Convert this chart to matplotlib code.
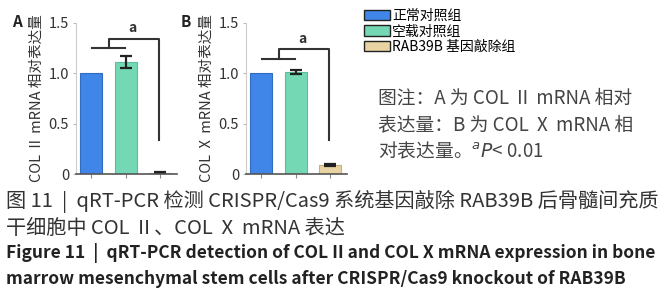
import numpy as np
import matplotlib
matplotlib.use("Agg")
import matplotlib.pyplot as plt
from matplotlib.patches import Patch

plt.rcParams['font.family'] = ['Noto Sans CJK SC', 'DejaVu Sans']

# data
groups = ["正常对照组", "空载对照组", "RAB39B 基因敲除组"]
colors = ["#3f86e8", "#74d8b4", "#e8d3a2"]
col2_vals = [1.0, 1.11, 0.01]
col2_err = [0.0, 0.06, 0.005]
col10_vals = [1.0, 1.01, 0.09]
col10_err = [0.0, 0.02, 0.01]
yticks = [0, 0.5, 1.0, 1.5]
ytick_labels = ["0", "0.5", "1.0", "1.5"]

W, H = 672, 300
fig = plt.figure(figsize=(W / 100, H / 100), dpi=100)


def px_axes(x0, y0, x1, y1):
    # pixel box (top-left origin) -> figure axes
    return fig.add_axes([x0 / W, 1 - y1 / H, (x1 - x0) / W, (y1 - y0) / H])


def panel(ax, vals, errs, ylabel, label_x, letter, lx, low_y, up_y, a_y):
    x = np.arange(len(vals))
    ax.bar(x, vals, width=0.64, color=colors, edgecolor=["#2f6cc0", "#5bbf9a", "#c9b07a"], linewidth=0.8)
    for xi, v, e in zip(x, vals, errs):
        if e > 0:
            ax.errorbar(xi, v, yerr=e, fmt="none", ecolor="#222", elinewidth=1.6, capsize=4, capthick=1.6)
    ax.set_xlim(-0.45, 2.5)
    ax.set_ylim(0, 1.5)
    ax.set_yticks(yticks)
    ax.set_yticklabels(ytick_labels, fontsize=10.5, color="#333")
    ax.set_xticks(x)
    ax.set_xticklabels([])
    ax.tick_params(axis="x", length=3, color="#888")
    ax.tick_params(axis="y", length=2, color="#bbb", pad=3)
    for s in ["top", "right"]:
        ax.spines[s].set_visible(False)
    ax.spines["left"].set_color("#cccccc")
    ax.spines["bottom"].set_color("#555")
    ax.spines["bottom"].set_linewidth(1.2)
    # significance bracket
    kw = dict(color="#333", lw=1.5, clip_on=False)
    ax.plot([0.02, 0.98], [low_y, low_y], **kw)
    ax.plot([0.5, 0.5, 1.97, 1.97], [low_y, up_y, up_y, 0.34], **kw)
    ax.text(1.2, a_y, "a", fontsize=10, fontweight="bold", color="#333", ha="center", va="center")
    pos = ax.get_position()
    fig.text(label_x / W, pos.y0 + pos.height / 2, ylabel, rotation=90, fontsize=10.5,
             color="#333", ha="center", va="center")
    fig.text(lx / W, 1 - 22 / H, letter, fontsize=11, fontweight="bold", color="#222", ha="center", va="center")


axA = px_axes(76, 23, 177, 174)
panel(axA, col2_vals, col2_err, "COL Ⅱ mRNA 相对表达量", 37, "A", 17, 1.25, 1.34, 1.45)
axB = px_axes(246, 23, 347, 174)
panel(axB, col10_vals, col10_err, "COL Ⅹ mRNA 相对表达量", 207, "B", 186, 1.14, 1.24, 1.34)

# legend
handles = [Patch(facecolor=c, edgecolor="#222", linewidth=1.0) for c in colors]
fig.legend(handles, groups, loc="upper left", bbox_to_anchor=(364 / W, 1 - 9 / H), frameon=False,
           fontsize=10, handlelength=1.9, handleheight=0.75, handletextpad=0.1, labelspacing=0.1,
           borderaxespad=0, borderpad=0)

note = ["图注：A 为 COL Ⅱ mRNA 相对", "表达量：B 为 COL Ⅹ mRNA 相", "对表达量。$^{a}$$\\it{P}$< 0.01"]
for i, line in enumerate(note):
    fig.text(378 / W, 1 - (98 + 27 * i) / H, line, fontsize=13.5, color="#444", va="center")

cap = ["图 11  |  qRT-PCR 检测 CRISPR/Cas9 系统基因敲除 RAB39B 后骨髓间充质",
       "干细胞中 COL Ⅱ、COL Ⅹ mRNA 表达"]
for i, line in enumerate(cap):
    fig.text(6 / W, 1 - (201 + 27 * i) / H, line, fontsize=14.5, color="#333", va="center")
eng = ["Figure 11  |  qRT-PCR detection of COL II and COL X mRNA expression in bone",
       "marrow mesenchymal stem cells after CRISPR/Cas9 knockout of RAB39B"]
for i, line in enumerate(eng):
    fig.text(6 / W, 1 - (253 + 26 * i) / H, line, fontsize=12.5, fontweight="bold", color="#222", va="center")

fig.savefig("out.png", dpi=100)
